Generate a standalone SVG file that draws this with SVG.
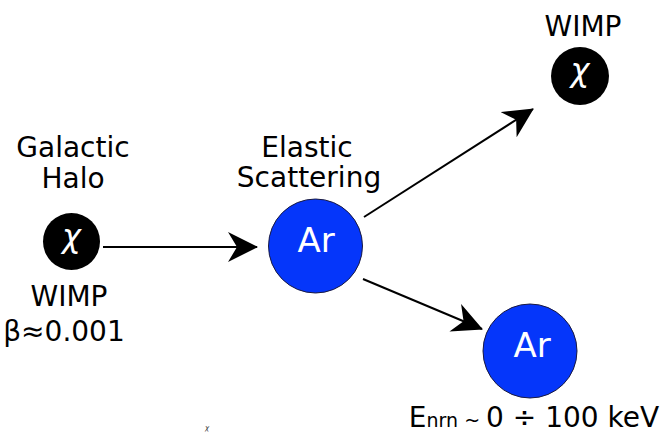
<svg xmlns="http://www.w3.org/2000/svg" width="667" height="434" viewBox="0 0 667 434">
<style>
  .lbl { font-family: "DejaVu Sans", "Open Sans", sans-serif; font-size: 28px; fill: #000; text-anchor: middle; }
  .chi { font-family: "DejaVu Sans", sans-serif; font-style: italic; font-size: 32px; fill: #fff; text-anchor: middle; }
  .ar { font-family: "DejaVu Sans", "Open Sans", sans-serif; font-size: 34px; fill: #fff; text-anchor: middle; }
  .wimp { fill: #000; }
  .nuc { fill: #0536fa; stroke: #1a1a40; stroke-width: 1; }
  .conn { stroke: #000; stroke-width: 2; fill: none; marker-end: url(#head); }
</style>
<defs>
  <marker id="head" markerUnits="userSpaceOnUse" viewBox="0 0 30 30" refX="29" refY="15" markerWidth="30" markerHeight="30" orient="auto">
    <path d="M0,0 L30,15 L0,30 L9,15 Z" fill="#000"/>
  </marker>
</defs>
<rect width="667" height="434" fill="#fff"/>
<g id="connectors">
  <line class="conn" x1="103" y1="247" x2="257" y2="247"/>
  <line class="conn" x1="364" y1="217" x2="533" y2="109"/>
  <line class="conn" x1="363" y1="279" x2="482" y2="329"/>
</g>
<g id="halo-wimp">
  <text class="lbl" x="73" y="157">Galactic</text>
  <text class="lbl" x="73" y="188">Halo</text>
  <circle class="wimp" cx="71.5" cy="241.5" r="28.5"/>
  <text class="chi" x="71.5" y="247">χ</text>
  <text class="lbl" x="69" y="306">WIMP</text>
  <text class="lbl" x="64" y="341">β≈0.001</text>
</g>
<g id="target-ar">
  <text class="lbl" x="307" y="157">Elastic</text>
  <text class="lbl" x="309" y="187">Scattering</text>
  <circle class="nuc" cx="315.5" cy="246" r="47"/>
  <text class="ar" x="316" y="252">Ar</text>
</g>
<g id="scattered-wimp">
  <text class="lbl" x="583" y="36">WIMP</text>
  <circle class="wimp" cx="580" cy="76" r="29"/>
  <text class="chi" x="580" y="81">χ</text>
</g>
<g id="recoil-ar">
  <circle class="nuc" cx="530" cy="351" r="47"/>
  <text class="ar" x="532" y="357">Ar</text>
  <text class="lbl" x="534" y="427"><tspan>E</tspan><tspan font-size="19">nrn</tspan><tspan font-size="19"> ~ </tspan><tspan>0 ÷ 100 keV</tspan></text>
</g>
<text x="207" y="430" font-family="DejaVu Sans, sans-serif" font-size="7" font-style="italic" fill="#333" text-anchor="middle">χ</text>
</svg>
